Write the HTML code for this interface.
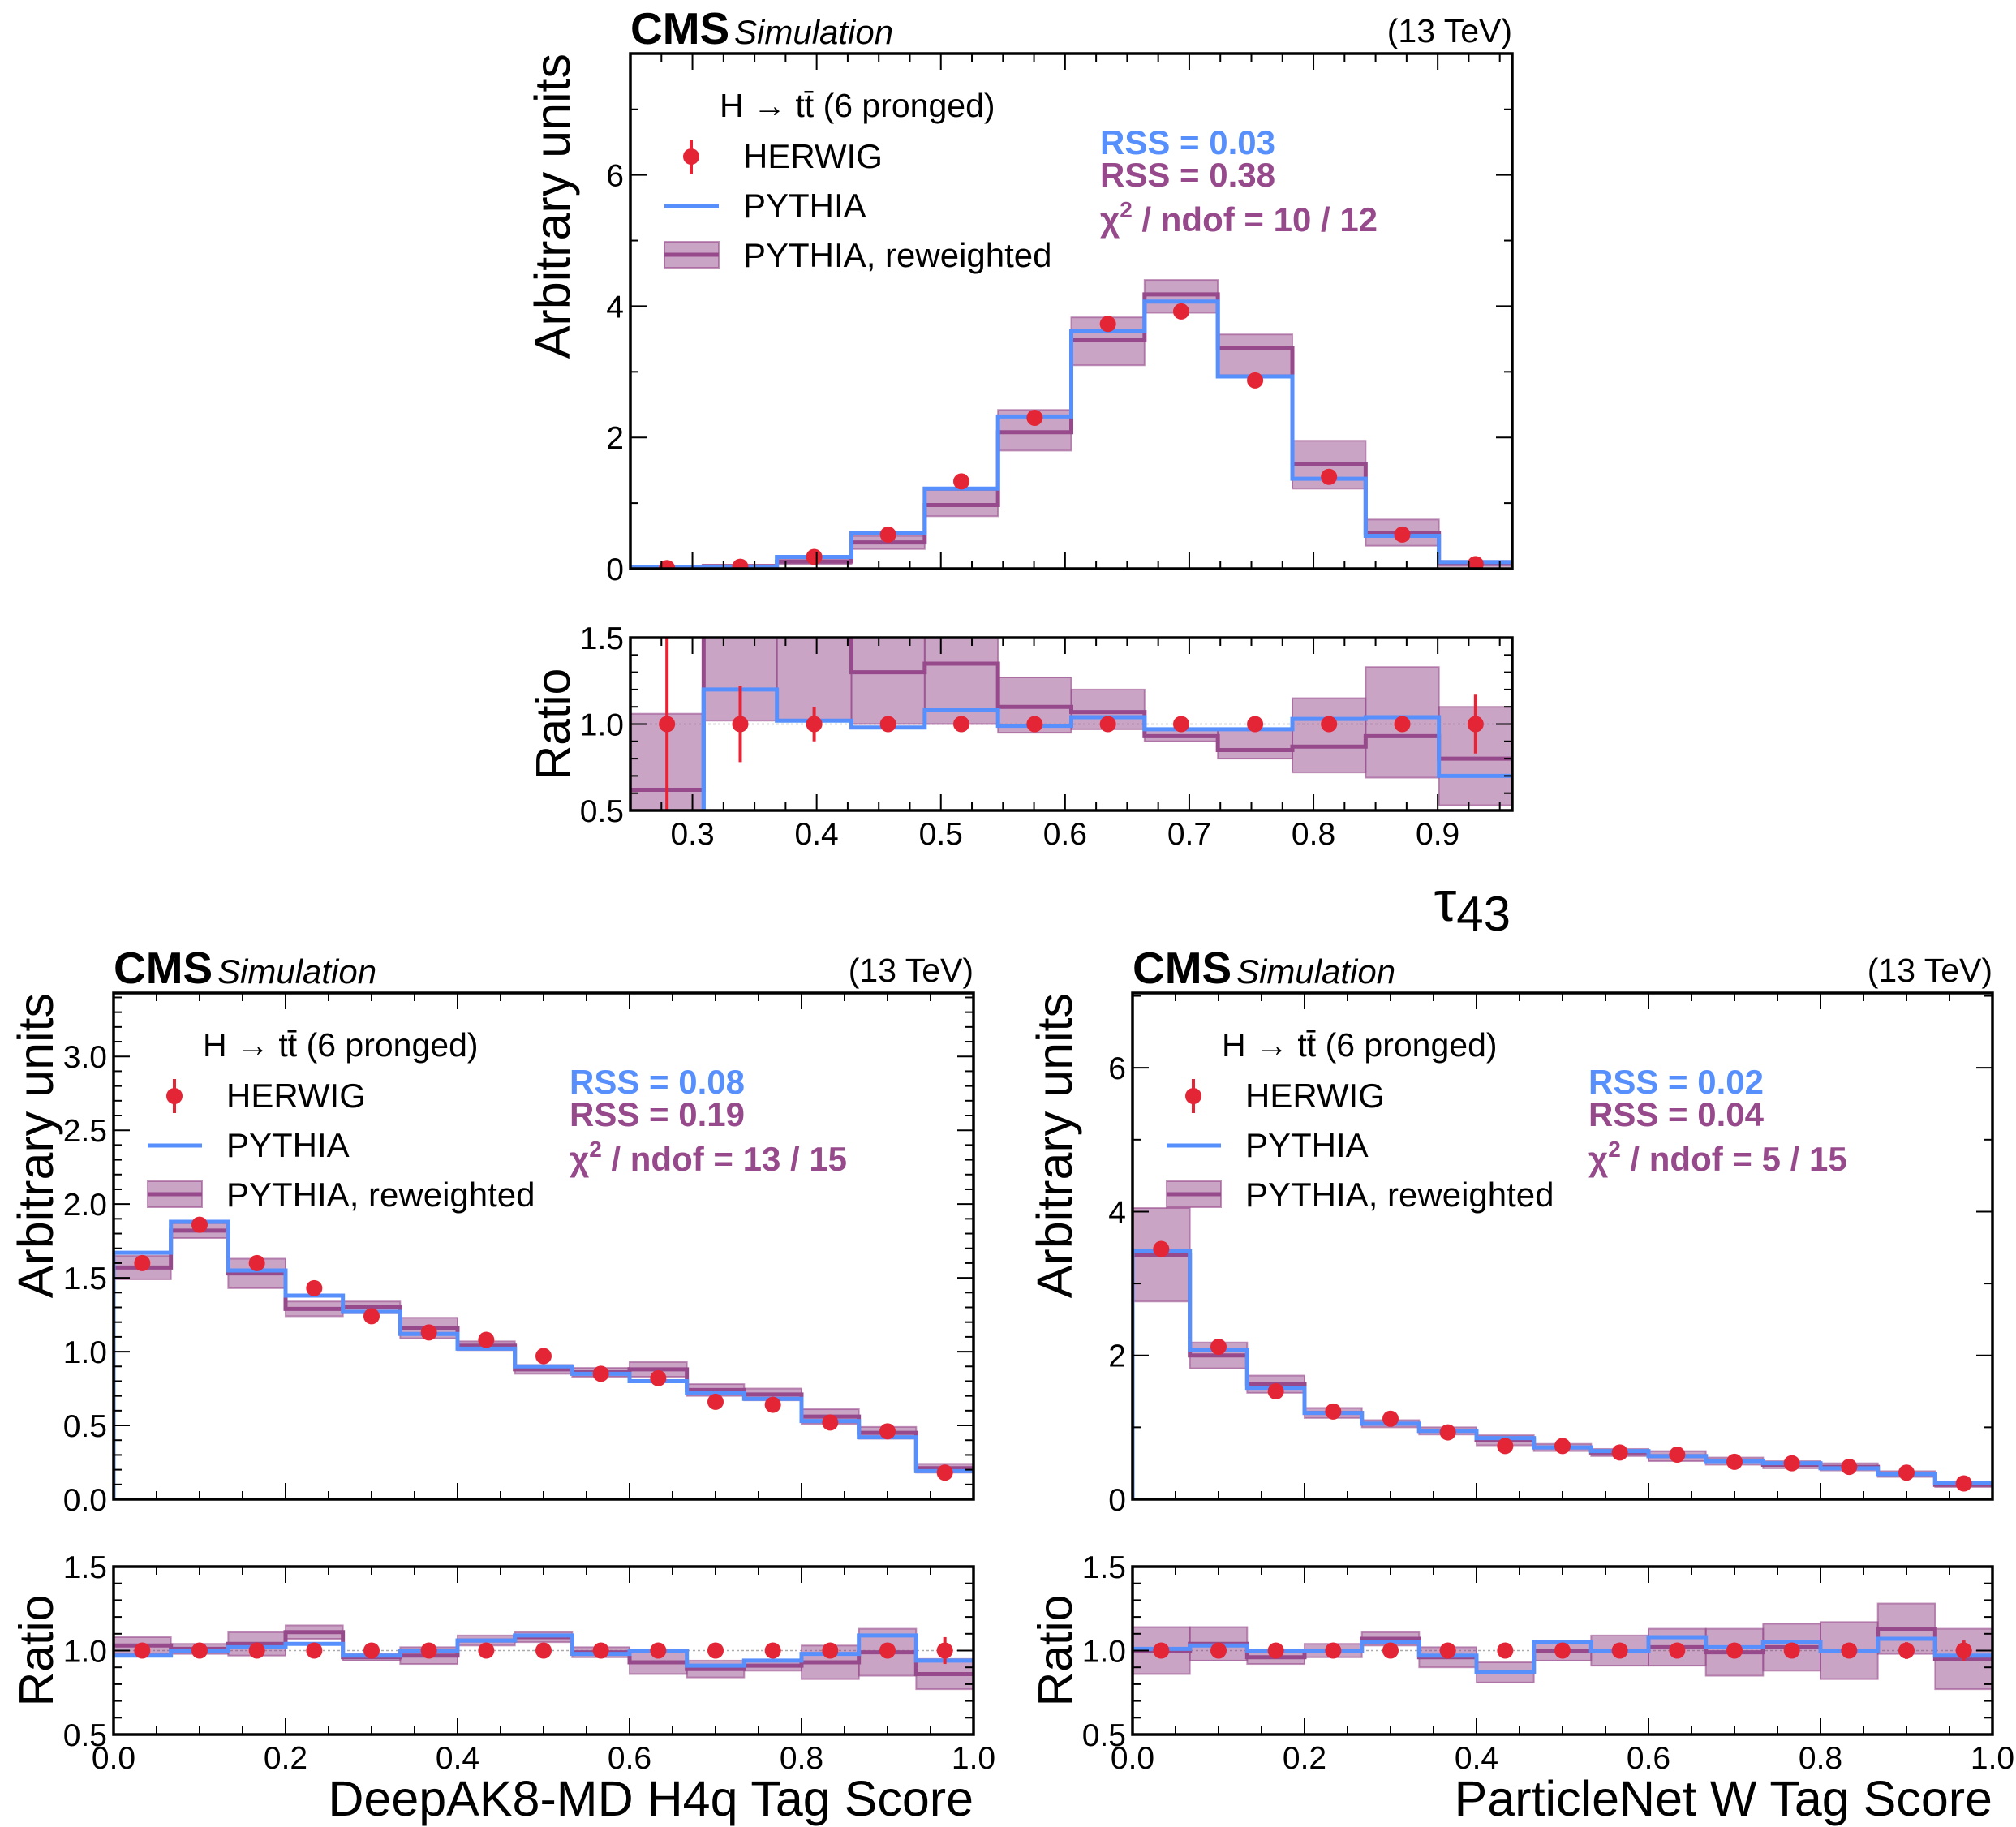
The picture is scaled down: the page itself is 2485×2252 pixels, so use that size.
<!DOCTYPE html>
<html><head><meta charset="utf-8"><style>
html,body{margin:0;padding:0;background:#fff;}
svg{display:block;font-family:"Liberation Sans",Arial,sans-serif;}
</style></head><body>
<svg id="fig" width="2485" height="2252" viewBox="0 0 2485 2252" xmlns="http://www.w3.org/2000/svg"></svg>
<script>
// ---------- Panel A: tau43 ----------
const tauEdges = [0.25,0.309,0.368,0.428,0.487,0.546,0.605,0.664,0.723,0.783,0.842,0.901,0.96];
const tauPythia = [0.02,0.03,0.18,0.55,1.22,2.32,3.62,4.07,2.93,1.37,0.5,0.1];
const tauRew = [0.01,0.04,0.11,0.4,0.97,2.08,3.48,4.18,3.36,1.6,0.55,0.08];
const tauRewLo = [0.0,0.01,0.07,0.3,0.8,1.8,3.1,3.9,2.95,1.22,0.35,0.04];
const tauRewHi = [0.02,0.06,0.16,0.5,1.2,2.42,3.83,4.4,3.57,1.95,0.75,0.12];
const tauHerwig = [0.01,0.03,0.18,0.52,1.33,2.3,3.73,3.92,2.87,1.4,0.52,0.07];
const tauRatioBlue = [0.3,1.2,1.02,0.98,1.08,0.99,1.04,0.97,0.97,1.03,1.04,0.7];
const tauRatioRew = [0.62,1.8,1.6,1.3,1.35,1.1,1.07,0.93,0.85,0.87,0.93,0.8];
const tauRatioLo = [0.5,1.02,1.02,1.0,1.0,0.95,0.97,0.9,0.8,0.72,0.69,0.53];
const tauRatioHi = [1.06,2.0,2.0,2.0,1.6,1.27,1.2,0.97,0.97,1.15,1.33,1.1];
const tauHerwigErr = [0.6,0.22,0.1,0.04,0.01,0.01,0.01,0.01,0.01,0.01,0.03,0.17];
const tauYTicks = [0,2,4,6];
const tauXTicks = [0.3,0.4,0.5,0.6,0.7,0.8,0.9];

// ---------- Panel B: DeepAK8-MD H4q ----------
const h4qPythia = [1.67,1.88,1.55,1.38,1.27,1.12,1.02,0.9,0.85,0.8,0.72,0.68,0.53,0.42,0.19];
const h4qRew = [1.57,1.82,1.53,1.29,1.3,1.16,1.04,0.88,0.86,0.88,0.74,0.71,0.56,0.45,0.21];
const h4qRewHW = [0.08,0.05,0.1,0.05,0.04,0.07,0.03,0.03,0.03,0.05,0.04,0.04,0.05,0.04,0.03];
const h4qHerwig = [1.6,1.86,1.6,1.43,1.24,1.13,1.08,0.97,0.85,0.82,0.66,0.64,0.52,0.46,0.18];
const h4qRatioBlue = [0.97,1.0,1.02,1.04,0.97,1.0,1.06,1.09,0.98,1.0,0.91,0.94,0.98,1.09,0.94];
const h4qRatioRew = [1.03,1.01,1.04,1.11,0.96,0.97,1.06,1.08,0.99,0.93,0.89,0.91,0.93,0.99,0.86];
const h4qRatioHW = [0.05,0.03,0.07,0.04,0.02,0.05,0.03,0.03,0.03,0.07,0.05,0.03,0.1,0.14,0.09];
const h4qHerwigErr = [0.01,0.01,0.01,0.01,0.01,0.01,0.01,0.01,0.02,0.02,0.03,0.03,0.04,0.04,0.08];
const h4qYTicks = [0,0.5,1.0,1.5,2.0,2.5,3.0];

// ---------- Panel C: ParticleNet W ----------
const pnPythia = [3.45,2.07,1.55,1.2,1.05,0.95,0.85,0.72,0.67,0.6,0.53,0.5,0.43,0.35,0.22];
const pnRew = [3.4,2.0,1.6,1.2,1.05,0.95,0.82,0.72,0.65,0.6,0.53,0.48,0.45,0.35,0.2];
const pnRewHW = [0.65,0.18,0.12,0.07,0.05,0.05,0.07,0.05,0.05,0.07,0.05,0.05,0.05,0.04,0.03];
const pnHerwig = [3.48,2.12,1.5,1.22,1.12,0.93,0.74,0.74,0.65,0.62,0.52,0.5,0.45,0.37,0.22];
const pnRatioBlue = [1.01,1.03,1.0,1.0,1.05,0.97,0.87,1.05,1.0,1.08,1.02,1.05,1.0,1.07,0.97];
const pnRatioRew = [1.0,1.04,0.96,1.0,1.07,0.96,0.87,1.0,1.0,1.02,0.99,1.02,1.0,1.13,0.95];
const pnRatioHW = [0.14,0.1,0.04,0.04,0.04,0.06,0.06,0.06,0.09,0.11,0.14,0.14,0.17,0.15,0.18];
const pnHerwigErr = [0.01,0.01,0.01,0.01,0.01,0.01,0.03,0.02,0.02,0.03,0.03,0.04,0.04,0.05,0.06];
const pnYTicks = [0,2,4,6];

const unitXTicks = [0.0,0.2,0.4,0.6,0.8,1.0];
const ratioTicks = [0.5,1.0,1.5];
const uniformEdges = [0,1,2,3,4,5,6,7,8,9,10,11,12,13,14,15].map(i=>i/15);

const NS="http://www.w3.org/2000/svg";
const svg=document.getElementById('fig');
const BLUE="#5790fc", PURP="#964a8b", RED="#e42536", BAND="rgba(150,74,139,0.5)";
function el(tag,attrs,parent){const e=document.createElementNS(NS,tag);for(const k in attrs)e.setAttribute(k,attrs[k]);(parent||svg).appendChild(e);return e;}

function drawPanel(c){
  const g=el('g',{});
  
  
  const X=v=>c.L+(v-c.xmin)/(c.xmax-c.xmin)*(c.R-c.L);
  const Y=v=>c.B-(v-0)/(c.ymax)*(c.B-c.T);
  const RY=v=>c.RB-(v-0.5)/1.0*(c.RB-c.RT);
  const clip=el('clipPath',{id:c.id+'m'},g); el('rect',{x:c.L,y:c.T,width:c.R-c.L,height:c.B-c.T},clip);
  const clipR=el('clipPath',{id:c.id+'r'},g); el('rect',{x:c.L,y:c.RT,width:c.R-c.L,height:c.RB-c.RT},clipR);
  const e=c.edges, n=e.length-1;
  function step(vals,fy,color,name,gp){
    let d='';
    for(let i=0;i<n;i++){d+=(i==0?'M':'L')+X(e[i])+','+fy(vals[i])+'L'+X(e[i+1])+','+fy(vals[i]);}
    const p=el('path',{d:d,fill:'none',stroke:color,'stroke-width':5},gp);
    
    
  }
  function band(lo,hi,fy,gp,name){
    for(let i=0;i<n;i++){
      const y1=fy(hi[i]),y2=fy(lo[i]);
      const r=el('rect',{x:X(e[i]),y:Math.min(y1,y2),width:X(e[i+1])-X(e[i]),height:Math.abs(y2-y1),fill:BAND,stroke:'rgba(150,74,139,0.6)','stroke-width':2},gp);
      
      
    }
  }
  function points(vals,err,fy,gp,name){
    for(let i=0;i<n;i++){
      const xc=X((e[i]+e[i+1])/2);
      el('line',{x1:xc,x2:xc,y1:fy(vals[i]+err[i]),y2:fy(vals[i]-err[i]),stroke:RED,'stroke-width':4},gp);
      const ci=el('circle',{cx:xc,cy:fy(vals[i]),r:10,fill:RED},gp);
      
      
    }
  }
  const gm=el('g',{'clip-path':'url(#'+c.id+'m)'},g);
  band(c.rewLo,c.rewHi,Y,gm,'reweighted-band');
  step(c.rew,Y,PURP,'reweighted-line',gm);
  step(c.py,Y,BLUE,'pythia-line',gm);
  el('line',{x1:c.L,x2:c.L,y1:c.B,y2:Y(c.py[0]),stroke:BLUE,'stroke-width':5},gm);
  points(c.hw,c.hw.map(()=>0.02*c.ymax/7),Y,gm,'herwig-point');
  const gr=el('g',{'clip-path':'url(#'+c.id+'r)'},g);
  el('line',{x1:c.L,x2:c.R,y1:RY(1),y2:RY(1),stroke:'#aaa','stroke-width':1.5,'stroke-dasharray':'3,3'},gr);
  band(c.rLo,c.rHi,RY,gr,'ratio-band');
  step(c.rRew,RY,PURP,'ratio-reweighted-line',gr);
  step(c.rBlue,RY,BLUE,'ratio-pythia-line',gr);
  if(c.id==='a'){el('line',{x1:X(e[1]),x2:X(e[1]),y1:RY(c.rBlue[0]),y2:RY(c.rBlue[1]),stroke:BLUE,'stroke-width':5},gr);}
  points(c.hw.map(()=>1),c.hwErr,RY,gr,'ratio-herwig-point');
  [[c.T,c.B,'main-frame'],[c.RT,c.RB,'ratio-frame']].forEach(([t,b,nm])=>{
    const r=el('rect',{x:c.L,y:t,width:c.R-c.L,height:b-t,fill:'none',stroke:'#000','stroke-width':3.5},g);
    
    
  });
  function xticks(t,b){
    const step=c.xMinor; const start=Math.ceil((c.xmin-1e-9)/step);
    for(let k=start;k*step<=c.xmax+1e-9;k++){
      const v=k*step; const major=Math.abs(v/c.xMajor-Math.round(v/c.xMajor))<1e-6; const len=major?20:10;
      const x=X(v);
      el('line',{x1:x,x2:x,y1:b,y2:b-len,stroke:'#000','stroke-width':2},g);
      el('line',{x1:x,x2:x,y1:t,y2:t+len,stroke:'#000','stroke-width':2},g);
    }
  }
  xticks(c.T,c.B); xticks(c.RT,c.RB);
  function yticks(fy,lo,hi,maj,min){
    for(let v=lo;v<=hi+1e-9;v+=min){
      const major=Math.abs(v/maj-Math.round(v/maj))<1e-6; const len=major?20:10; const y=fy(v);
      el('line',{x1:c.L,x2:c.L+len,y1:y,y2:y,stroke:'#000','stroke-width':2},g);
      el('line',{x1:c.R,x2:c.R-len,y1:y,y2:y,stroke:'#000','stroke-width':2},g);
    }
  }
  yticks(Y,0,c.ymax,c.yMajor,c.yMinor); yticks(RY,0.5,1.5,0.5,0.1);
  c.yTicks.forEach(v=>{const t=el('text',{x:c.L-8,y:Y(v)+14,'text-anchor':'end','font-size':39},g);t.textContent=c.yFmt(v);
    
    });
  ratioTicks.forEach(v=>{const t=el('text',{x:c.L-8,y:RY(v)+14,'text-anchor':'end','font-size':39},g);t.textContent=v.toFixed(1);
    
    });
  c.xTicks.forEach(v=>{const t=el('text',{x:X(v),y:c.RB+42,'text-anchor':'middle','font-size':39},g);t.textContent=v.toFixed(1);
    
    });
  let t=el('text',{x:c.L,y:c.T-12,'font-size':55,'font-weight':'bold'},g);t.textContent='CMS';
  
  
  t=el('text',{x:c.L+128,y:c.T-12,'font-size':42,'font-style':'italic'},g);t.textContent='Simulation';
  
  
  t=el('text',{x:c.R,y:c.T-14,'font-size':41,'text-anchor':'end'},g);t.textContent='(13 TeV)';
  
  
  t=el('text',{x:0,y:0,'font-size':61,'text-anchor':'end',transform:'translate('+(c.L-75)+','+c.T+') rotate(-90)'},g);t.textContent='Arbitrary units';
  
  
  t=el('text',{x:0,y:0,'font-size':59,'text-anchor':'middle',transform:'translate('+(c.L-75)+','+((c.RT+c.RB)/2)+') rotate(-90)'},g);t.textContent='Ratio';
  
  
  const lx=c.L, ly=c.T;
  t=el('text',{x:lx+110,y:ly+78,'font-size':41},g);
  t.textContent='H \u2192 t\u0074\u0304 (6 pronged)';
  
  
  el('line',{x1:lx+75,x2:lx+75,y1:ly+106,y2:ly+148,stroke:RED,'stroke-width':4},g);
  el('circle',{cx:lx+75,cy:ly+127,r:10,fill:RED},g);
  t=el('text',{x:lx+139,y:ly+141,'font-size':42},g);t.textContent='HERWIG';
  
  
  el('line',{x1:lx+42,x2:lx+109,y1:ly+188,y2:ly+188,stroke:BLUE,'stroke-width':5},g);
  t=el('text',{x:lx+139,y:ly+202,'font-size':42},g);t.textContent='PYTHIA';
  
  
  el('rect',{x:lx+42,y:ly+232,width:67,height:32,fill:BAND,stroke:'rgba(150,74,139,0.6)','stroke-width':2},g);
  el('line',{x1:lx+42,x2:lx+109,y1:ly+248,y2:ly+248,stroke:PURP,'stroke-width':5},g);
  t=el('text',{x:lx+139,y:ly+263,'font-size':42},g);t.textContent='PYTHIA, reweighted';
  
  
  t=el('text',{x:lx+c.rssDx,y:ly+124,'font-size':42,'font-weight':'bold',fill:BLUE},g);t.textContent='RSS = '+c.rss1;
  
  
  t=el('text',{x:lx+c.rssDx,y:ly+164,'font-size':42,'font-weight':'bold',fill:PURP},g);t.textContent='RSS = '+c.rss2;
  
  
  t=el('text',{x:lx+c.rssDx,y:ly+219,'font-size':42,'font-weight':'bold',fill:PURP},g);
  t.innerHTML='χ<tspan dy="-17" font-size="28">2</tspan><tspan dy="17"> / ndof = '+c.chi+'</tspan>';
  
  
  return {g,X};
}

drawPanel({id:'a',name:'tau43-panel',L:777,R:1864,T:66,B:701,RT:786,RB:999,xmin:0.25,xmax:0.96,ymax:7.85,yMajor:2,yMinor:1,xMajor:0.1,xMinor:0.025,
  edges:tauEdges,py:tauPythia,rew:tauRew,rewLo:tauRewLo,rewHi:tauRewHi,hw:tauHerwig,hwErr:tauHerwigErr,
  rBlue:tauRatioBlue,rRew:tauRatioRew,rLo:tauRatioLo,rHi:tauRatioHi,yTicks:tauYTicks,yFmt:v=>String(v),xTicks:tauXTicks,
  rssDx:579,rss1:'0.03',rss2:'0.38',chi:'10 / 12'});
let tt=el('text',{x:1862,y:1135,'font-size':70,'text-anchor':'end'});tt.innerHTML='τ<tspan font-size="60" dy="12">43</tspan>';



drawPanel({id:'b',name:'h4q-panel',L:140,R:1200,T:1224,B:1848,RT:1931,RB:2138,xmin:0,xmax:1,ymax:3.43,yMajor:0.5,yMinor:0.1,xMajor:0.2,xMinor:0.05,
  edges:uniformEdges,py:h4qPythia,rew:h4qRew,rewLo:h4qRew.map((v,i)=>v-h4qRewHW[i]),rewHi:h4qRew.map((v,i)=>v+h4qRewHW[i]),hw:h4qHerwig,hwErr:h4qHerwigErr,
  rBlue:h4qRatioBlue,rRew:h4qRatioRew,rLo:h4qRatioRew.map((v,i)=>v-h4qRatioHW[i]),rHi:h4qRatioRew.map((v,i)=>v+h4qRatioHW[i]),yTicks:h4qYTicks,yFmt:v=>v.toFixed(1),xTicks:unitXTicks,
  rssDx:562,rss1:'0.08',rss2:'0.19',chi:'13 / 15'});
tt=el('text',{x:1200,y:2238,'font-size':61,'text-anchor':'end'});tt.textContent='DeepAK8-MD H4q Tag Score';



drawPanel({id:'c',name:'particlenet-panel',L:1396,R:2456,T:1224,B:1848,RT:1931,RB:2138,xmin:0,xmax:1,ymax:7.04,yMajor:2,yMinor:1,xMajor:0.2,xMinor:0.05,
  edges:uniformEdges,py:pnPythia,rew:pnRew,rewLo:pnRew.map((v,i)=>v-pnRewHW[i]),rewHi:pnRew.map((v,i)=>v+pnRewHW[i]),hw:pnHerwig,hwErr:pnHerwigErr,
  rBlue:pnRatioBlue,rRew:pnRatioRew,rLo:pnRatioRew.map((v,i)=>v-pnRatioHW[i]),rHi:pnRatioRew.map((v,i)=>v+pnRatioHW[i]),yTicks:pnYTicks,yFmt:v=>String(v),xTicks:unitXTicks,
  rssDx:562,rss1:'0.02',rss2:'0.04',chi:'5 / 15'});
tt=el('text',{x:2456,y:2238,'font-size':61,'text-anchor':'end'});tt.textContent='ParticleNet W Tag Score';


</script>
</body></html>
